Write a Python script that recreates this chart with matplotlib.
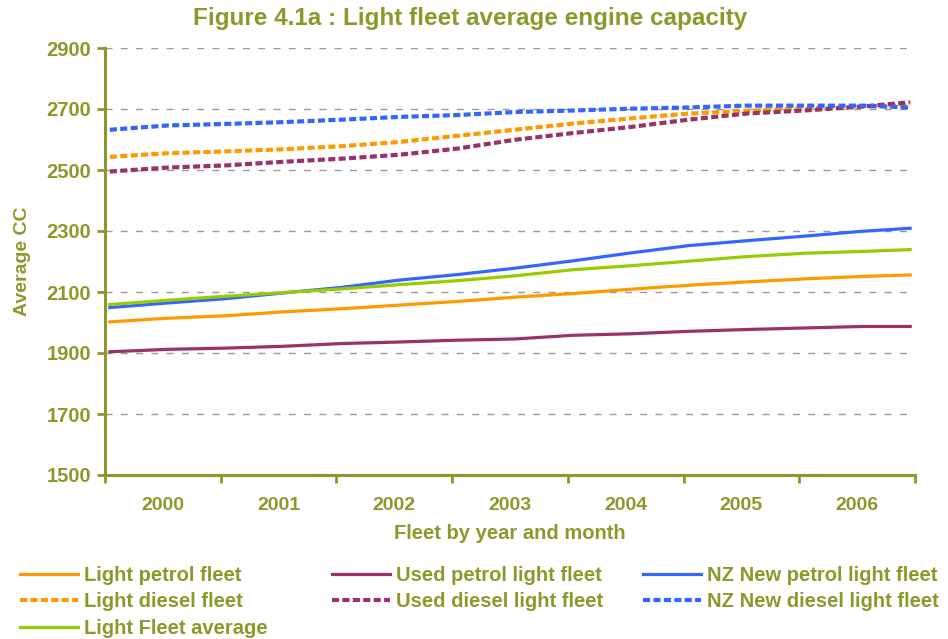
import matplotlib
matplotlib.use('Agg')
import matplotlib.pyplot as plt

plt.rcParams['font.family'] = ['Liberation Sans', 'DejaVu Sans']

OLIVE = '#8a9a2a'

years = ['2000', '2001', '2002', '2003', '2004', '2005', '2006']
# month index (0 = Jan 2000, 83 = Dec 2006) of the points
months = [0, 6, 12, 18, 24, 30, 36, 42, 48, 54, 60, 66, 72, 78, 83]

light_petrol = [2002, 2014, 2022, 2035, 2045, 2057, 2069, 2083, 2095, 2109, 2122, 2133, 2143, 2151, 2156]
used_petrol = [1904, 1912, 1916, 1922, 1931, 1936, 1942, 1946, 1958, 1963, 1971, 1977, 1982, 1987, 1987]
nz_new_petrol = [2049, 2064, 2078, 2097, 2115, 2139, 2157, 2178, 2202, 2228, 2252, 2268, 2283, 2299, 2309]
light_diesel = [2543, 2555, 2561, 2568, 2578, 2592, 2612, 2632, 2652, 2669, 2685, 2694, 2702, 2708, 2712]
used_diesel = [2495, 2508, 2515, 2527, 2537, 2550, 2570, 2599, 2621, 2641, 2665, 2685, 2695, 2708, 2722]
nz_new_diesel = [2632, 2646, 2651, 2657, 2665, 2674, 2680, 2690, 2695, 2701, 2705, 2711, 2711, 2711, 2705]
fleet_average = [2059, 2073, 2086, 2098, 2110, 2124, 2137, 2153, 2173, 2186, 2201, 2216, 2227, 2233, 2239]

fig = plt.figure(figsize=(9.48, 6.39), dpi=100)
ax = fig.add_axes([105/948, 1-475/639, 810/948, 427/639])

dash = (0, (1.7, 0.8))
l1, = ax.plot(months, light_petrol, color='#ff9900', lw=2.3, label='Light petrol fleet')
l2, = ax.plot(months, used_petrol, color='#993366', lw=2.3, label='Used petrol light fleet')
l3, = ax.plot(months, nz_new_petrol, color='#3366ff', lw=2.3, label='NZ New petrol light fleet')
l4, = ax.plot(months, light_diesel, color='#ff9900', lw=3, ls=dash, label='Light diesel fleet')
l5, = ax.plot(months, used_diesel, color='#993366', lw=3, ls=dash, label='Used diesel light fleet')
l6, = ax.plot(months, nz_new_diesel, color='#3366ff', lw=3, ls=dash, label='NZ New diesel light fleet')
l7, = ax.plot(months, fleet_average, color='#99cc00', lw=2.3, label='Light Fleet average')

ax.set_xlim(-0.5, 83.5)
ax.set_ylim(1500, 2900)
ax.set_yticks(range(1500, 2901, 200))
ax.set_xticks([i*12 - 0.5 for i in range(8)])
ax.set_xticklabels([])
ax.set_xticks([i*12 + 5.5 for i in range(7)], minor=True)
ax.set_xticklabels(years, minor=True)

ax.grid(axis='y', color='#999999', ls=(0, (5, 6)), lw=1)
ax.set_axisbelow(True)

for s in ['top', 'right']:
    ax.spines[s].set_visible(False)
for s in ['left', 'bottom']:
    ax.spines[s].set_color(OLIVE)
    ax.spines[s].set_linewidth(2.2)

ax.tick_params(axis='y', colors=OLIVE, length=6, width=2, pad=4, labelsize=14.5)
ax.tick_params(axis='x', which='major', colors=OLIVE, length=6, width=2)
ax.tick_params(axis='x', which='minor', colors=OLIVE, length=0, pad=16, labelsize=14)
for t in ax.get_yticklabels() + ax.get_xticklabels(minor=True):
    t.set_fontweight('bold')

ax.set_ylabel('Average CC', color=OLIVE, fontsize=14, fontweight='bold', labelpad=11)
ax.set_xlabel('Fleet by year and month', color=OLIVE, fontsize=14.5, fontweight='bold', labelpad=7)
fig.text(470/948, 1-18/639, 'Figure 4.1a : Light fleet average engine capacity', ha='center', va='center',
         color=OLIVE, fontsize=17.5, fontweight='bold')

groups = [([l1, l4, l7], 20), ([l2, l5], 332), ([l3, l6], 643)]
for hs, xpos in groups:
    leg = fig.legend(handles=hs, loc='upper left', bbox_to_anchor=(xpos/948, 1-566/639),
                     frameon=False, borderpad=0, borderaxespad=0, handlelength=2.9,
                     handletextpad=0.3, labelspacing=0.37, prop={'size': 14.5, 'weight': 'bold'})
    for t in leg.get_texts():
        t.set_color(OLIVE)

fig.savefig('out.png', dpi=100)
